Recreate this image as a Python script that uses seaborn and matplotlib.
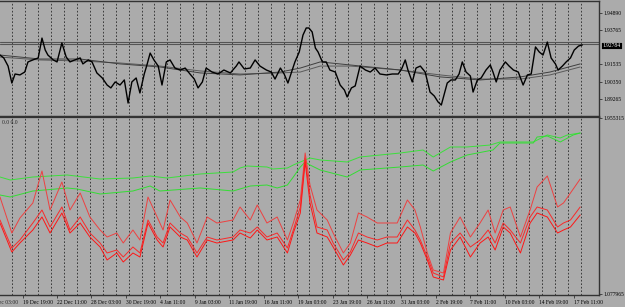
import matplotlib
matplotlib.use("Agg")
import numpy as np
import pandas as pd
import matplotlib.pyplot as plt
import matplotlib.transforms as mtransforms
import seaborn as sns

# ---- data (hourly bar index -> value) ----
price_bar = [0, 7, 15, 22, 28, 37, 46, 52, 61, 71, 78, 84, 89, 99, 106, 115, 123, 130, 139, 149,
             154, 164, 171, 180, 190, 199, 206, 214, 223, 231, 238, 245, 253, 260, 268, 273, 279,
             286, 294, 301, 309, 316, 325, 335, 344, 353, 361, 368, 376, 383, 394, 405, 416, 428,
             439, 444, 454, 465, 474, 483, 495, 504, 511, 521, 528, 535, 543, 548, 556, 563, 569,
             574, 580, 586, 591, 599, 606, 613, 623, 632, 640, 645, 653, 660, 669, 679, 688, 697,
             706, 718, 729, 740, 747, 753, 758, 766, 773, 781, 790, 799, 807, 814, 820, 825, 831,
             838, 846, 853, 859, 866, 874, 879, 887, 894, 903, 911, 916, 922, 929, 939, 946, 954,
             963, 972, 980, 987, 995, 1002, 1009, 1017, 1024, 1032, 1037, 1045, 1052, 1060, 1067,
             1075, 1082]
price = [1.9214, 1.9195, 1.9142, 1.9031, 1.9090, 1.9084, 1.9103, 1.9169, 1.9182, 1.9195, 1.9325,
         1.9247, 1.9214, 1.9182, 1.9169, 1.9293, 1.9201, 1.9169, 1.9182, 1.9195, 1.9156, 1.9182,
         1.9169, 1.9097, 1.9064, 1.9018, 1.8999, 1.9038, 1.9018, 1.9051, 1.8900, 1.9038, 1.9064,
         1.8966, 1.9090, 1.9149, 1.9227, 1.9182, 1.9142, 1.9018, 1.9169, 1.9182, 1.9129, 1.9116,
         1.9129, 1.9090, 1.9057, 1.8999, 1.9038, 1.9129, 1.9103, 1.9090, 1.9116, 1.9097, 1.9142,
         1.9169, 1.9123, 1.9129, 1.9182, 1.9142, 1.9116, 1.9103, 1.9057, 1.9129, 1.9090, 1.9031,
         1.9116, 1.9169, 1.9234, 1.9345, 1.9391, 1.9391, 1.9365, 1.9260, 1.9234, 1.9169, 1.9169,
         1.9116, 1.9103, 1.9018, 1.8985, 1.8940, 1.8999, 1.9012, 1.9142, 1.9116, 1.9103, 1.9129,
         1.9090, 1.9084, 1.9090, 1.9090, 1.9129, 1.9182, 1.9116, 1.9038, 1.9129, 1.9142, 1.9103,
         1.8972, 1.8946, 1.8907, 1.8887, 1.8953, 1.9031, 1.9051, 1.9051, 1.9090, 1.9169, 1.9103,
         1.9077, 1.8972, 1.9051, 1.9064, 1.9116, 1.9149, 1.9103, 1.9038, 1.9116, 1.9169, 1.9142,
         1.9116, 1.9103, 1.9018, 1.9084, 1.9090, 1.9267, 1.9234, 1.9214, 1.9299, 1.9195, 1.9156,
         1.9116, 1.9142, 1.9169, 1.9195, 1.9247, 1.9273, 1.9280]

ma_bar = [0, 74, 149, 223, 297, 372, 446, 521, 558, 595, 651, 744, 818, 892, 967, 1022, 1078]
ma_fast = [1.9214, 1.9188, 1.9188, 1.9156, 1.9136, 1.9097, 1.9084, 1.9103, 1.9129, 1.9169,
           1.9149, 1.9116, 1.9071, 1.9051, 1.9071, 1.9103, 1.9156]
ma_slow = [1.9201, 1.9182, 1.9175, 1.9162, 1.9142, 1.9110, 1.9090, 1.9097, 1.9103, 1.9142,
           1.9142, 1.9116, 1.9084, 1.9057, 1.9057, 1.9084, 1.9136]
level_lines = [1.9297, 1.9284]
last_price = 1.92784

red_bar = [0, 22, 37, 61, 78, 93, 115, 130, 149, 167, 186, 199, 217, 229, 247, 260, 275, 292,
           303, 316, 335, 348, 366, 385, 403, 433, 446, 465, 478, 496, 515, 534, 545, 558, 567,
           576, 589, 608, 619, 638, 651, 666, 682, 701, 719, 738, 757, 771, 781, 794, 805, 824,
           837, 855, 874, 892, 907, 920, 935, 948, 967, 985, 998, 1017, 1036, 1047, 1060, 1078]
red_top = [1.5615, 1.3820, 1.4568, 1.5316, 1.6911, 1.4967, 1.6363, 1.4967, 1.5815, 1.4618,
           1.3970, 1.3621, 1.3820, 1.3322, 1.3970, 1.3472, 1.5615, 1.4618, 1.3970, 1.5466,
           1.4618, 1.4319, 1.3322, 1.4618, 1.4319, 1.4469, 1.5117, 1.4469, 1.5216, 1.4319,
           1.4618, 1.3472, 1.4319, 1.5466, 1.7809, 1.6213, 1.4967, 1.4469, 1.3820, 1.2824,
           1.3322, 1.4818, 1.4618, 1.4319, 1.4319, 1.4319, 1.5466, 1.4967, 1.4120, 1.2824,
           1.1976, 1.1827, 1.3820, 1.4618, 1.3621, 1.4319, 1.4967, 1.3820, 1.4967, 1.5117,
           1.3621, 1.4967, 1.6114, 1.6662, 1.5117, 1.5316, 1.5815, 1.6512]
red_mid = [1.4469, 1.3073, 1.3472, 1.4319, 1.4967, 1.4120, 1.5117, 1.3970, 1.4618, 1.3820,
           1.3322, 1.2824, 1.2973, 1.2624, 1.3123, 1.2824, 1.4469, 1.3621, 1.3322, 1.4319,
           1.3820, 1.3621, 1.2824, 1.3621, 1.3472, 1.3621, 1.3970, 1.3820, 1.4120, 1.3621,
           1.3820, 1.3073, 1.3970, 1.5117, 1.7559, 1.5715, 1.4120, 1.3970, 1.3322, 1.2475,
           1.2874, 1.3820, 1.3621, 1.3472, 1.3621, 1.3621, 1.4469, 1.3970, 1.3472, 1.2624,
           1.1827, 1.1627, 1.3322, 1.3820, 1.3123, 1.3472, 1.3970, 1.3322, 1.4319, 1.3970,
           1.3322, 1.4618, 1.5117, 1.4967, 1.4120, 1.4319, 1.4469, 1.5117]
red_low = [1.4319, 1.2874, 1.3322, 1.3970, 1.4618, 1.3820, 1.4818, 1.3820, 1.4319, 1.3621,
           1.3123, 1.2475, 1.2824, 1.2375, 1.2824, 1.2624, 1.4319, 1.3472, 1.3123, 1.4120,
           1.3621, 1.3472, 1.2624, 1.3472, 1.3322, 1.3472, 1.3820, 1.3571, 1.3970, 1.3472,
           1.3621, 1.2824, 1.3820, 1.4818, 1.7360, 1.5316, 1.3820, 1.3621, 1.3123, 1.2225,
           1.2724, 1.3472, 1.3322, 1.3123, 1.3322, 1.3322, 1.4120, 1.3820, 1.3322, 1.2475,
           1.1627, 1.1478, 1.2973, 1.3621, 1.2624, 1.3322, 1.3621, 1.2973, 1.4120, 1.3820,
           1.2824, 1.4319, 1.4818, 1.4618, 1.3820, 1.3970, 1.4120, 1.4718]

green_up_bar = [0, 19, 61, 125, 186, 247, 279, 310, 372, 433, 446, 459, 496, 507, 534, 545, 558,
                576, 595, 645, 669, 744, 786, 805, 837, 868, 911, 929, 991, 1017, 1041, 1054, 1078]
green_up = [1.6612, 1.6463, 1.6612, 1.6712, 1.6512, 1.6562, 1.6662, 1.6562, 1.6762, 1.6861,
            1.7061, 1.7160, 1.7111, 1.7011, 1.7061, 1.7210, 1.7360, 1.7559, 1.7460, 1.7360,
            1.7609, 1.7809, 1.7958, 1.7609, 1.8108, 1.8108, 1.8207, 1.8357, 1.8357, 1.8706,
            1.8556, 1.8706, 1.8806]
green_lo_bar = [0, 19, 61, 125, 143, 186, 247, 279, 297, 372, 433, 465, 496, 515, 534, 545, 558,
                567, 576, 595, 645, 669, 744, 786, 805, 837, 868, 916, 929, 991, 998, 1017, 1041,
                1065, 1078]
green_lo = [1.5715, 1.5615, 1.5914, 1.6064, 1.6014, 1.5765, 1.5914, 1.6163, 1.5914, 1.6064,
            1.5914, 1.6163, 1.6213, 1.6064, 1.6213, 1.6612, 1.7111, 1.7360, 1.7210, 1.6961,
            1.6612, 1.6961, 1.7111, 1.7210, 1.6911, 1.7360, 1.7709, 1.7958, 1.8307, 1.8307,
            1.8606, 1.8656, 1.8357, 1.8706, 1.8806]

top_ticks = [1.94890, 1.93765, 1.91535, 1.90350, 1.89265]
bot_ticks = [1.955315, 1.077965]
date_labels = ["19 Dec 19:00", "22 Dec 11:00", "28 Dec 03:00", "30 Dec 19:00", "4 Jan 11:00",
               "9 Jan 03:00", "11 Jan 19:00", "16 Jan 11:00", "19 Jan 03:00", "23 Jan 19:00",
               "26 Jan 11:00", "31 Jan 03:00", "2 Feb 19:00", "7 Feb 11:00", "10 Feb 03:00",
               "14 Feb 19:00", "17 Feb 11:00"]
first_label = "17 Dec 03:00"

# ---- style ----
sns.set_theme(style="white")
bg = "#ABABAB"
edge = "#333333"
plt.rcParams["font.family"] = ["Liberation Sans Narrow", "Liberation Serif", "DejaVu Serif"]
fs = 4.0

fig = plt.figure(figsize=(6.25, 3.07), dpi=100, facecolor=bg)
W, H = 625, 307
ax_top = fig.add_axes([0, 1 - 117 / H, 599 / W, 116 / H])
ax_bot = fig.add_axes([0, 1 - 295 / H, 599 / W, 178 / H], sharex=ax_top)

for ax in (ax_top, ax_bot):
    ax.set_facecolor(bg)
    for s in ax.spines.values():
        s.set_color(edge)
        s.set_linewidth(1.0)
    ax.spines["left"].set_visible(False)
    ax.yaxis.tick_right()
    ax.tick_params(axis="y", direction="out", length=2.2, width=0.6, colors=edge,
                   labelsize=fs, labelcolor="black", pad=1.2)
    # daily separators
    for gx in range(23, 1080, 24):
        ax.axvline(gx, color="#2b2b2b", lw=0.6, ls=(0, (2, 2.2)), zorder=1)

ax_top.spines["bottom"].set_linewidth(1.6)
ax_bot.spines["top"].set_linewidth(1.6)

# top panel: price + two averages + level lines
for lv in level_lines:
    ax_top.axhline(lv, color="#555555", lw=0.8, zorder=2)
sns.lineplot(x=ma_bar, y=ma_slow, ax=ax_top, color="#5a5a5a", lw=0.7, estimator=None, zorder=3)
sns.lineplot(x=ma_bar, y=ma_fast, ax=ax_top, color="#3f3f3f", lw=0.7, estimator=None, zorder=3)
sns.lineplot(x=price_bar, y=price, ax=ax_top, color="black", lw=1.0, estimator=None, zorder=4)
ax_top.set_ylim(1.88088, 1.95675)
ax_top.set_yticks(top_ticks)
ax_top.set_yticklabels([f"{v:.5f}" for v in top_ticks])
ax_top.tick_params(axis="x", bottom=False, labelbottom=False)
ax_top.text(1.006, last_price, f"{last_price:.5f}", transform=mtransforms.blended_transform_factory(
    ax_top.transAxes, ax_top.transData), color="white", fontsize=fs, va="center", ha="left",
    bbox=dict(boxstyle="square,pad=0.2", fc="black", ec="#dddddd", lw=0.4), clip_on=False)
ax_top.set_xlabel("")
ax_top.set_ylabel("")

# bottom panel: green envelope + red lines
sns.lineplot(x=green_up_bar, y=green_up, ax=ax_bot, color="#3be03b", lw=0.7, estimator=None, zorder=3)
sns.lineplot(x=green_lo_bar, y=green_lo, ax=ax_bot, color="#33dd33", lw=0.7, estimator=None, zorder=3)
sns.lineplot(x=red_bar, y=red_top, ax=ax_bot, color="#ee4040", lw=0.7, estimator=None, zorder=4)
sns.lineplot(x=red_bar, y=red_mid, ax=ax_bot, color="#f82a2a", lw=0.7, estimator=None, zorder=4)
sns.lineplot(x=red_bar, y=red_low, ax=ax_bot, color="#ff1515", lw=0.7, estimator=None, zorder=4)
ax_bot.set_ylim(1.07298, 1.9603)
ax_bot.set_yticks(bot_ticks)
ax_bot.set_yticklabels([f"{v:.6f}" for v in bot_ticks])
ax_bot.text(0.004, 0.985, "0.0 0.0", transform=ax_bot.transAxes, fontsize=fs, va="top", ha="left")

tick_bars = list(range(42, 42 + 64 * len(date_labels), 64))
ax_bot.set_xticks(tick_bars)
ax_bot.set_xticklabels(date_labels)
ax_bot.tick_params(axis="x", bottom=True, direction="out", length=2.2, width=0.6, colors=edge,
                   labelsize=fs, labelcolor="black", pad=1.2)
for lbl in ax_bot.get_xticklabels():
    lbl.set_ha("left")
ax_bot.annotate(first_label, xy=(-22, 0), xycoords=("data", "axes fraction"), xytext=(0, -3.4),
                textcoords="offset points", fontsize=fs, ha="left", va="top", annotation_clip=False)
ax_bot.set_xlim(0, 1113)
ax_bot.set_xlabel("")
ax_bot.set_ylabel("")

fig.savefig("out.png", dpi=100, facecolor=bg)
